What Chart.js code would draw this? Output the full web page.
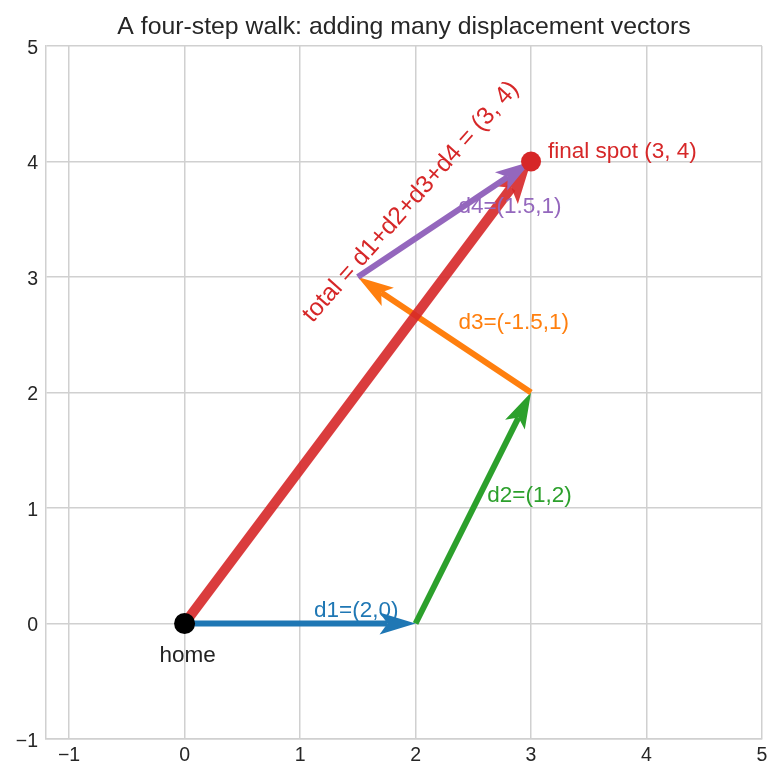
<!DOCTYPE html>
<html>
<head>
<meta charset="utf-8">
<script src="https://cdn.jsdelivr.net/npm/chart.js@4.4.1/dist/chart.umd.min.js"></script>
<style>
  html, body { margin: 0; padding: 0; background: #ffffff; }
  #wrap { width: 783px; height: 780px; }
</style>
</head>
<body>
<div id="wrap"><canvas id="walkChart" width="783" height="780"></canvas></div>
<script>
// the four steps of the walk
const stepNames = ['d1', 'd2', 'd3', 'd4'];
const startX = [0, 2, 3, 1.5];
const startY = [0, 0, 2, 3];
const stepX = [2, 1, -1.5, 1.5];
const stepY = [0, 2, 1, 1];
const stepLabels = ['d1=(2,0)', 'd2=(1,2)', 'd3=(-1.5,1)', 'd4=(1.5,1)'];
const stepColors = ['#1f77b4', '#2ca02c', '#ff7f0e', '#9467bd'];

// resultant
const totalX = [3];
const totalY = [4];
const totalLabel = 'total = d1+d2+d3+d4 = (3, 4)';

const homePoint = [{ x: 0, y: 0 }];
const finalPoint = [{ x: 3, y: 4 }];

const xTicks = [-1, 0, 1, 2, 3, 4, 5];
const yTicks = [-1, 0, 1, 2, 3, 4, 5];

const FONT = '"Liberation Sans", Arial, sans-serif';
const TOTAL_COLOR = 'rgba(214, 39, 40, 0.9)';

function minusLabel(v) {
    return v < 0 ? '\u2212' + Math.abs(v) : String(v);
}

function drawArrow(ctx, x0, y0, x1, y1, lw, color, hl, hw) {
    var dx = x1 - x0, dy = y1 - y0;
    var len = Math.hypot(dx, dy);
    var ux = dx / len, uy = dy / len;
    var nx = -uy, ny = ux;
    var notch = hl * 0.78;
    ctx.save();
    ctx.strokeStyle = color;
    ctx.fillStyle = color;
    ctx.lineWidth = lw;
    ctx.lineCap = 'butt';
    ctx.beginPath();
    ctx.moveTo(x0, y0);
    ctx.lineTo(x1 - ux * notch, y1 - uy * notch);
    ctx.stroke();
    ctx.beginPath();
    ctx.moveTo(x1, y1);
    ctx.lineTo(x1 - ux * hl + nx * hw, y1 - uy * hl + ny * hw);
    ctx.lineTo(x1 - ux * notch, y1 - uy * notch);
    ctx.lineTo(x1 - ux * hl - nx * hw, y1 - uy * hl - ny * hw);
    ctx.closePath();
    ctx.fill();
    ctx.restore();
}

// arrows are drawn under the dots
const arrowPlugin = {
    id: 'arrows',
    beforeDatasetsDraw: function (chart) {
        var ctx = chart.ctx;
        var sx = chart.scales.x, sy = chart.scales.y;
        var area = chart.chartArea;
        ctx.save();
        ctx.beginPath();
        ctx.rect(area.left, area.top, area.right - area.left, area.bottom - area.top);
        ctx.clip();

        var drawStep = function (i) {
            drawArrow(ctx,
                sx.getPixelForValue(startX[i]), sy.getPixelForValue(startY[i]),
                sx.getPixelForValue(startX[i] + stepX[i]), sy.getPixelForValue(startY[i] + stepY[i]),
                6, stepColors[i], 36, 11);
        };
        drawStep(0);
        drawStep(1);
        drawStep(2);
        drawArrow(ctx,
            sx.getPixelForValue(0), sy.getPixelForValue(0),
            sx.getPixelForValue(totalX[0]), sy.getPixelForValue(totalY[0]),
            10, TOTAL_COLOR, 42, 15);
        drawStep(3);
        ctx.restore();
    },
    afterDatasetsDraw: function (chart) {
        var ctx = chart.ctx;
        var sx = chart.scales.x, sy = chart.scales.y;
        ctx.save();
        ctx.font = '22.5px ' + FONT;
        ctx.textBaseline = 'alphabetic';

        // step labels, just past each midpoint
        ctx.textAlign = 'left';
        for (var i = 0; i < stepNames.length; i++) {
            var mx = sx.getPixelForValue(startX[i] + stepX[i] / 2);
            var my = sy.getPixelForValue(startY[i] + stepY[i] / 2);
            ctx.fillStyle = stepColors[i];
            ctx.fillText(stepLabels[i], mx + 14, my - 6);
        }

        // home
        ctx.fillStyle = '#222222';
        ctx.textAlign = 'center';
        ctx.fillText('home', sx.getPixelForValue(homePoint[0].x) + 3, sy.getPixelForValue(homePoint[0].y) + 39);

        // final spot
        ctx.fillStyle = '#d62728';
        ctx.textAlign = 'left';
        ctx.fillText('final spot (3, 4)', sx.getPixelForValue(finalPoint[0].x) + 17, sy.getPixelForValue(finalPoint[0].y) - 3);

        // rotated resultant label
        ctx.font = '24.6px ' + FONT;
        ctx.textAlign = 'center';
        ctx.textBaseline = 'middle';
        ctx.translate(sx.getPixelForValue(1.96), sy.getPixelForValue(3.65));
        ctx.rotate(-48.5 * Math.PI / 180);
        ctx.fillText(totalLabel, 0, 0);
        ctx.restore();
    }
};

var ctx = document.getElementById('walkChart').getContext('2d');
var walkChart = new Chart(ctx, {
    type: 'scatter',
    plugins: [arrowPlugin],
    data: {
        datasets: [
            {
                label: 'home',
                data: homePoint,
                backgroundColor: '#000000',
                borderColor: '#000000',
                pointRadius: 10.5,
                borderWidth: 0
            },
            {
                label: 'final spot',
                data: finalPoint,
                backgroundColor: '#d62728',
                borderColor: '#d62728',
                pointRadius: 10,
                borderWidth: 0
            }
        ]
    },
    options: {
        responsive: false,
        animation: false,
        events: [],
        layout: {
            padding: { left: 0, right: 21, top: 0, bottom: 0 }
        },
        plugins: {
            legend: { display: false },
            tooltip: { enabled: false },
            title: {
                display: true,
                fullSize: false,
                text: 'A four-step walk: adding many displacement vectors',
                color: '#262626',
                font: { family: FONT, size: 24.8, weight: 'normal' },
                padding: { top: 12.5, bottom: 3.7 }
            }
        },
        scales: {
            x: {
                type: 'linear',
                min: -1.2,
                max: 5,
                afterBuildTicks: function (axis) {
                    axis.ticks = xTicks.map(function (v) { return { value: v }; });
                },
                afterFit: function (axis) { axis.height = 41; },
                grid: { color: '#d0d0d0', lineWidth: 1.5, drawTicks: false },
                border: { color: '#d0d0d0', width: 1.5 },
                ticks: {
                    padding: 5,
                    color: '#262626',
                    font: { family: FONT, size: 19.5 },
                    callback: minusLabel
                }
            },
            y: {
                type: 'linear',
                min: -1,
                max: 5,
                afterBuildTicks: function (axis) {
                    axis.ticks = yTicks.map(function (v) { return { value: v }; });
                },
                afterFit: function (axis) { axis.width = 46; },
                grid: { color: '#d0d0d0', lineWidth: 1.5, drawTicks: false },
                border: { color: '#d0d0d0', width: 1.5 },
                ticks: {
                    padding: 8,
                    labelOffset: 2.5,
                    color: '#262626',
                    font: { family: FONT, size: 19.5 },
                    callback: minusLabel
                }
            }
        }
    }
});
</script>
</body>
</html>
